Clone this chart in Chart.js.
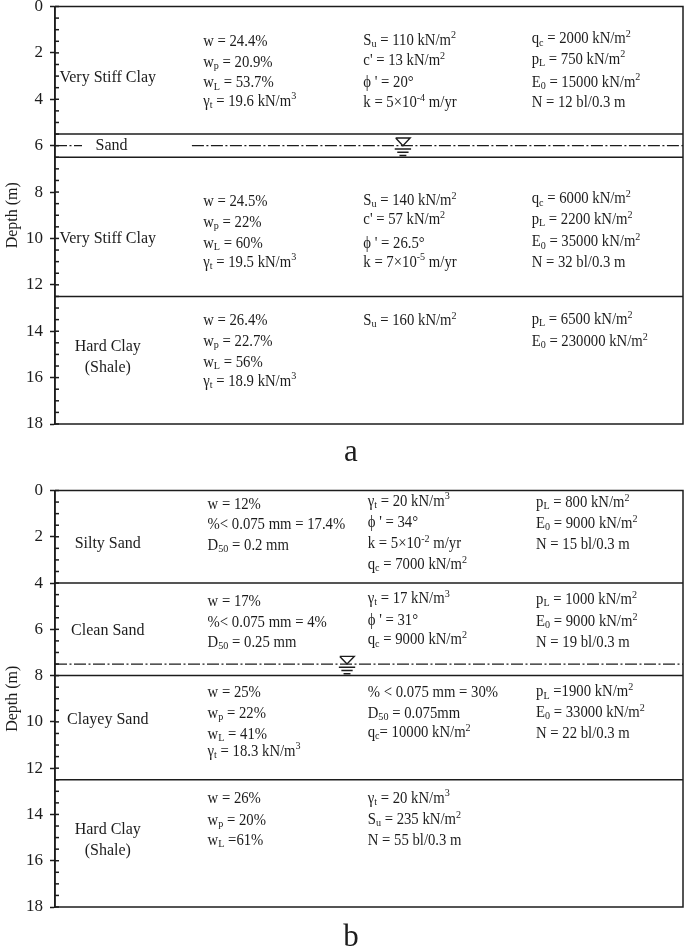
<!DOCTYPE html>
<html>
<head>
<meta charset="utf-8">
<script src="https://cdn.jsdelivr.net/npm/chart.js@4"></script>
<style>
  html, body { margin: 0; background: #fff; overflow: hidden; }
  canvas { position: absolute; left: 0; }
  #chartA { top: -14px; }
  #chartB { top: 470px; }
  .panel { position: absolute; font: 31px "Liberation Serif", serif; color: #1c1c1c; transform: translate(-50%, -50%); }
</style>
</head>
<body>
<canvas id="chartA" width="700" height="484"></canvas>
<canvas id="chartB" width="700" height="470"></canvas>
<div class="panel" style="left:351px;top:451px">a</div>
<div class="panel" style="left:351px;top:936px">b</div>
<script>
// y axis
const depthMin = 0
const depthMax = 18
const depthStep = 0.5
const axisTitle = 'Depth (m)'

// layer boundaries and water table, depth in m
const boundariesA = [5.5, 6.5, 12.5]
const boundariesB = [4, 8, 12.5]
const waterA = 6
const waterB = 7.5

// soil names
const soilsA = ['Very Stiff Clay', 'Sand', 'Very Stiff Clay', 'Hard Clay', '(Shale)']
const soilsB = ['Silty Sand', 'Clean Sand', 'Clayey Sand', 'Hard Clay', '(Shale)']

// soil properties, _{} is subscript and ^{} is superscript
const a1c1 = ['w = 24.4%', 'w_{p} = 20.9%', 'w_{L} = 53.7%', 'γ_{t} = 19.6 kN/m^{3}']
const a1c2 = ['S_{u} = 110 kN/m^{2}', "c' = 13 kN/m^{2}", "ϕ ' = 20°", 'k = 5×10^{-4} m/yr']
const a1c3 = ['q_{c} = 2000 kN/m^{2}', 'p_{L} = 750 kN/m^{2}', 'E_{0} = 15000 kN/m^{2}', 'N = 12 bl/0.3 m']
const a2c1 = ['w = 24.5%', 'w_{p} = 22%', 'w_{L} = 60%', 'γ_{t} = 19.5 kN/m^{3}']
const a2c2 = ['S_{u} = 140 kN/m^{2}', "c' = 57 kN/m^{2}", "ϕ ' = 26.5°", 'k = 7×10^{-5} m/yr']
const a2c3 = ['q_{c} = 6000 kN/m^{2}', 'p_{L} = 2200 kN/m^{2}', 'E_{0} = 35000 kN/m^{2}', 'N = 32 bl/0.3 m']
const a3c1 = ['w = 26.4%', 'w_{p} = 22.7%', 'w_{L} = 56%', 'γ_{t} = 18.9 kN/m^{3}']
const a3c2 = ['S_{u} = 160 kN/m^{2}']
const a3c3 = ['p_{L} = 6500 kN/m^{2}', 'E_{0} = 230000 kN/m^{2}']

const b1c1 = ['w = 12%', '%< 0.075 mm = 17.4%', 'D_{50} = 0.2 mm']
const b1c2 = ['γ_{t} = 20 kN/m^{3}', "ϕ ' = 34°", 'k = 5×10^{-2} m/yr', 'q_{c} = 7000 kN/m^{2}']
const b1c3 = ['p_{L} = 800 kN/m^{2}', 'E_{0} = 9000 kN/m^{2}', 'N = 15 bl/0.3 m']
const b2c1 = ['w = 17%', '%< 0.075 mm = 4%', 'D_{50} = 0.25 mm']
const b2c2 = ['γ_{t} = 17 kN/m^{3}', "ϕ ' = 31°", 'q_{c} = 9000 kN/m^{2}']
const b2c3 = ['p_{L} = 1000 kN/m^{2}', 'E_{0} = 9000 kN/m^{2}', 'N = 19 bl/0.3 m']
const b3c1 = ['w = 25%', 'w_{p} = 22%', 'w_{L} = 41%', 'γ_{t} = 18.3 kN/m^{3}']
const b3c2 = ['% < 0.075 mm = 30%', 'D_{50} = 0.075mm', 'q_{c}= 10000 kN/m^{2}']
const b3c3 = ['p_{L} =1900 kN/m^{2}', 'E_{0} = 33000 kN/m^{2}', 'N = 22 bl/0.3 m']
const b4c1 = ['w = 26%', 'w_{p} = 20%', 'w_{L} =61%']
const b4c2 = ['γ_{t} = 20 kN/m^{3}', 'S_{u} = 235 kN/m^{2}', 'N = 55 bl/0.3 m']

// where things go: x runs 0-100 across the plot, rows are depths
const ink = '#1c1c1c'
const fontName = '"Liberation Serif", serif'
const soilX = 8.4
const colA = [23.6, 49.1, 75.9]
const colB = [24.3, 49.8, 76.6]

const textA = [
  [a1c1, colA[0], [1.52, 2.41, 3.31, 4.1]],
  [a1c2, colA[1], [1.47, 2.34, 3.28, 4.15]],
  [a1c3, colA[2], [1.41, 2.28, 3.28, 4.17]],
  [a2c1, colA[0], [8.41, 9.32, 10.21, 11.03]],
  [a2c2, colA[1], [8.37, 9.2, 10.21, 11.03]],
  [a2c3, colA[2], [8.31, 9.2, 10.16, 11.07]],
  [a3c1, colA[0], [13.56, 14.45, 15.37, 16.17]],
  [a3c2, colA[1], [13.56]],
  [a3c3, colA[2], [13.51, 14.45]]
]
const textB = [
  [b1c1, colB[0], [0.62, 1.49, 2.38]],
  [b1c2, colB[1], [0.48, 1.41, 2.31, 3.21]],
  [b1c3, colB[2], [0.53, 1.44, 2.35]],
  [b2c1, colB[0], [4.82, 5.72, 6.59]],
  [b2c2, colB[1], [4.69, 5.63, 6.47]],
  [b2c3, colB[2], [4.72, 5.68, 6.59]],
  [b3c1, colB[0], [8.74, 9.63, 10.54, 11.28]],
  [b3c2, colB[1], [8.74, 9.63, 10.47]],
  [b3c3, colB[2], [8.72, 9.6, 10.51]],
  [b4c1, colB[0], [13.34, 14.28, 15.14]],
  [b4c2, colB[1], [13.31, 14.23, 15.14]]
]
const soilDepthsA = [3.08, 6.01, 10.02, 14.68, 15.58]
const soilDepthsB = [2.31, 6.06, 9.93, 14.68, 15.58]

function drawRich(c, str, x, y) {
  const squeeze = 0.92
  const parts = str.match(/_\{[^}]*\}|\^\{[^}]*\}|[^_^]+/g)
  parts.forEach(p => {
    let t = p
    let dy = 0
    let size = 16
    if (p[0] === '_') { t = p.slice(2, -1); dy = 3.5; size = 11 }
    if (p[0] === '^') { t = p.slice(2, -1); dy = -5; size = 11 }
    c.font = size + 'px ' + fontName
    c.save()
    c.translate(x, y + dy)
    c.scale(squeeze, 1)
    c.fillText(t, 0, 0)
    c.restore()
    x += c.measureText(t).width * squeeze
  })
}

const soilPlugin = {
  id: 'soilPlugin',
  afterDraw(chart, args, opts) {
    const c = chart.ctx
    const xs = chart.scales.x
    const ys = chart.scales.y
    const area = chart.chartArea
    c.save()
    c.strokeStyle = ink
    c.fillStyle = ink
    c.lineWidth = 1.5
    c.strokeRect(area.left, area.top, area.right - area.left, area.bottom - area.top)
    // inward ticks
    ys.ticks.forEach((t, i) => {
      const y = ys.getPixelForTick(i)
      c.beginPath()
      c.moveTo(area.left, y)
      c.lineTo(area.left + 4, y)
      c.stroke()
    })
    c.textBaseline = 'middle'
    c.textAlign = 'center'
    c.font = '16px ' + fontName
    opts.soils.forEach((s, i) => {
      const x = s === 'Sand' ? soilX + 0.6 : soilX
      c.fillText(s, xs.getPixelForValue(x), ys.getPixelForValue(opts.soilDepths[i]))
    })
    c.textAlign = 'left'
    opts.text.forEach(([rows, col, depths]) => {
      rows.forEach((r, i) => drawRich(c, r, xs.getPixelForValue(col), ys.getPixelForValue(depths[i])))
    })
    c.restore()
  }
}

function lineSet(x0, x1, depth, extra) {
  return Object.assign({
    data: [{ x: x0, y: depth }, { x: x1, y: depth }],
    showLine: true,
    pointRadius: 0,
    borderColor: ink,
    borderWidth: 1.5
  }, extra)
}

function makeChart(id, bounds, water, waterParts, markX, soils, soilDepths, text, padding) {
  const dash = { borderDash: [12, 2.5, 2, 2.5], borderWidth: 1.2 }
  const datasets = []
  bounds.forEach(d => datasets.push(lineSet(0, 100, d)))
  waterParts.forEach(p => datasets.push(lineSet(p[0], p[1], water, dash)))
  // water table symbol
  datasets.push(lineSet(markX - 1.3, markX + 1.3, water + 0.14))
  datasets.push(lineSet(markX - 0.9, markX + 0.9, water + 0.28))
  datasets.push(lineSet(markX - 0.55, markX + 0.55, water + 0.42))
  datasets.push({
    data: [
      { x: markX - 1.15, y: water - 0.33 },
      { x: markX + 1.15, y: water - 0.33 },
      { x: markX, y: water },
      { x: markX - 1.15, y: water - 0.33 }
    ],
    showLine: true,
    pointRadius: 0,
    borderColor: ink,
    borderWidth: 1.4
  })

  return new Chart(document.getElementById(id), {
    type: 'scatter',
    data: { datasets: datasets },
    plugins: [soilPlugin],
    options: {
      responsive: false,
      animation: false,
      layout: { padding: padding },
      plugins: {
        legend: { display: false },
        title: { display: false },
        tooltip: { enabled: false },
        soilPlugin: { soils: soils, soilDepths: soilDepths, text: text }
      },
      scales: {
        x: { type: 'linear', display: false, min: 0, max: 100 },
        y: {
          type: 'linear',
          reverse: true,
          min: depthMin,
          max: depthMax,
          afterFit: s => { s.width = 52 },
          border: { display: true, color: ink, width: 1.5 },
          grid: {
            drawOnChartArea: false,
            tickLength: 5,
            tickWidth: 1.5,
            tickColor: ctx => (ctx.tick.value % 2 === 0 ? ink : 'rgba(0,0,0,0)')
          },
          ticks: {
            stepSize: depthStep,
            autoSkip: false,
            color: ink,
            padding: 7,
            font: { family: fontName, size: 17 },
            callback: v => (v % 2 === 0 ? String(v) : '')
          },
          title: {
            display: true,
            text: axisTitle,
            color: ink,
            font: { family: fontName, size: 16 },
            padding: { top: 0, bottom: 0 }
          }
        }
      }
    }
  })
}

makeChart('chartA', boundariesA, waterA, [[0, 4.3], [21.8, 100]], 55.4,
  soilsA, soilDepthsA, textA, { left: 3, right: 17, top: 20.5, bottom: 46 })
makeChart('chartB', boundariesB, waterB, [[0, 100]], 46.5,
  soilsB, soilDepthsB, textB, { left: 3, right: 17, top: 20.5, bottom: 33 })
</script>
</body>
</html>
